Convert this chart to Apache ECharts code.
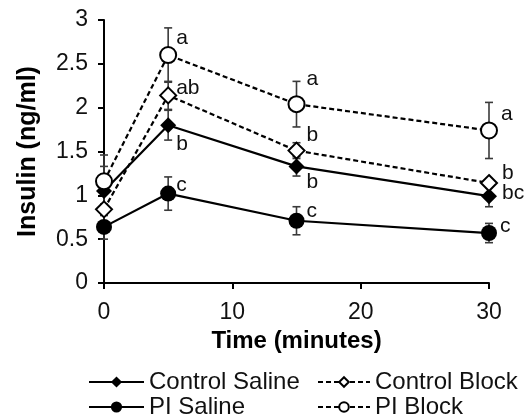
<!DOCTYPE html>
<html>
<head>
<meta charset="utf-8">
<script src="https://cdn.jsdelivr.net/npm/echarts@6/dist/echarts.min.js"></script>
<style>
  html, body { margin: 0; padding: 0; background: #fff; }
  #chart { width: 529px; height: 420px; }
</style>
</head>
<body>
<div id="chart"></div>
<script>
(function () {
  'use strict';

  // sampling times (minutes)
  var times = [0, 5, 15, 30];
  var yTicks = [0, 0.5, 1, 1.5, 2, 2.5, 3];

  // mean insulin (ng/ml) and SEM
  var controlSaline = [1.05, 1.80, 1.33, 0.99];
  var controlSalineErr = [0.28, 0.17, 0.11, 0.12];
  var piSaline = [0.64, 1.02, 0.71, 0.57];
  var piSalineErr = [0.14, 0.19, 0.16, 0.11];
  var controlBlock = [0.84, 2.14, 1.51, 1.14];
  var controlBlockErr = [0.06, 0.16, 0.09, 0.05];
  var piBlock = [1.16, 2.60, 2.04, 1.74];
  var piBlockErr = [0.30, 0.31, 0.26, 0.32];

  // significance letters (none at baseline)
  var controlSalineLetters = ['', 'b', 'b', 'bc'];
  var piSalineLetters = ['', 'c', 'c', 'c'];
  var controlBlockLetters = ['', 'ab', 'b', 'b'];
  var piBlockLetters = ['', 'a', 'a', 'a'];

  // where each letter sits relative to its point (px)
  var controlSalineLetterPos = [[0, 0], [8, 19], [10, 16], [13, -3]];
  var piSalineLetterPos = [[0, 0], [8, -8], [10, -10], [11, -7]];
  var controlBlockLetterPos = [[0, 0], [8, -7], [10, -15], [13, -10]];
  var piBlockLetterPos = [[0, 0], [8, -17], [10, -25], [12, -16]];

  var FONT = '"Liberation Sans", Arial, sans-serif';
  var ERR_COLOR = '#3a3a3a';

  function errorSeries(name, vals, errs) {
    return {
      type: 'custom',
      name: name + ' err',
      z: 1,
      data: times.map(function (t, i) { return [t, vals[i], errs[i]]; }),
      renderItem: function (params, api) {
        var x = api.value(0), y = api.value(1), e = api.value(2);
        var hi = api.coord([x, y + e]);
        var lo = api.coord([x, y - e]);
        var cap = 4;
        var st = { stroke: ERR_COLOR, lineWidth: 1.6 };
        return {
          type: 'group',
          children: [
            { type: 'line', shape: { x1: hi[0], y1: hi[1], x2: lo[0], y2: lo[1] }, style: st },
            { type: 'line', shape: { x1: hi[0] - cap, y1: hi[1], x2: hi[0] + cap, y2: hi[1] }, style: st },
            { type: 'line', shape: { x1: lo[0] - cap, y1: lo[1], x2: lo[0] + cap, y2: lo[1] }, style: st }
          ]
        };
      }
    };
  }

  function letterSeries(name, vals, letters, pos) {
    return {
      type: 'custom',
      name: name + ' letters',
      z: 5,
      data: times.map(function (t, i) { return [t, vals[i], i]; }),
      renderItem: function (params, api) {
        var i = api.value(2);
        var p = api.coord([api.value(0), api.value(1)]);
        var txt = letters[i];
        if (!txt) return null;
        return {
          type: 'text',
          x: p[0] + pos[i][0],
          y: p[1] + pos[i][1],
          style: {
            text: txt,
            fill: '#111',
            font: '21px ' + FONT,
            align: 'left',
            verticalAlign: 'middle'
          }
        };
      }
    };
  }

  function lineSeries(name, vals, symbol, filled, dashed) {
    return {
      type: 'line',
      name: name,
      z: 3,
      data: times.map(function (t, i) { return [t, vals[i]]; }),
      symbol: symbol,
      symbolSize: 16,
      showAllSymbol: true,
      lineStyle: { color: '#000', width: 2.2, type: dashed ? [5, 3] : 'solid' },
      itemStyle: {
        color: filled ? '#000' : '#fff',
        borderColor: '#000',
        borderWidth: filled ? 0 : 2
      },
      emphasis: { disabled: true }
    };
  }

  var chart = echarts.init(document.getElementById('chart'));

  var legendText = { fontFamily: FONT, fontSize: 24, color: '#111', lineHeight: 24 };

  chart.setOption({
    animation: false,
    backgroundColor: '#fff',
    grid: { left: 104, right: 40, top: 20, bottom: 137, containLabel: false },
    xAxis: {
      type: 'value',
      min: 0,
      max: 30,
      interval: 10,
      name: 'Time (minutes)',
      nameLocation: 'middle',
      nameGap: 46,
      nameTextStyle: { fontFamily: FONT, fontSize: 24, fontWeight: 'bold', color: '#000', verticalAlign: 'top' },
      axisLine: { onZero: false, lineStyle: { color: '#000', width: 2 } },
      axisTick: { show: true, length: 6, lineStyle: { color: '#000', width: 2 } },
      axisLabel: { margin: 18, fontFamily: FONT, fontSize: 23, color: '#111' },
      splitLine: { show: false }
    },
    yAxis: {
      type: 'value',
      min: yTicks[0],
      max: yTicks[yTicks.length - 1],
      interval: yTicks[1] - yTicks[0],
      name: 'Insulin (ng/ml)',
      nameLocation: 'middle',
      nameGap: 63,
      nameTextStyle: { fontFamily: FONT, fontSize: 25, fontWeight: 'bold', color: '#000' },
      axisLine: { show: true, lineStyle: { color: '#000', width: 2 } },
      axisTick: { show: true, length: 6, lineStyle: { color: '#000', width: 2 } },
      axisLabel: { margin: 16, fontFamily: FONT, fontSize: 23, color: '#111' },
      splitLine: { show: false }
    },
    legend: [
      {
        data: ['Control Saline', 'PI Saline'],
        orient: 'vertical',
        left: 88,
        top: 370,
        padding: 0,
        itemWidth: 55,
        itemHeight: 14,
        itemGap: 1,
        textStyle: legendText,
        selectedMode: false
      },
      {
        data: ['Control Block', 'PI Block'],
        orient: 'vertical',
        left: 317,
        top: 370,
        padding: 0,
        itemWidth: 52,
        itemHeight: 12,
        itemGap: 1,
        textStyle: legendText,
        selectedMode: false
      }
    ],
    series: [
      errorSeries('Control Saline', controlSaline, controlSalineErr),
      errorSeries('PI Saline', piSaline, piSalineErr),
      errorSeries('Control Block', controlBlock, controlBlockErr),
      errorSeries('PI Block', piBlock, piBlockErr),
      lineSeries('Control Saline', controlSaline, 'diamond', true, false),
      lineSeries('PI Saline', piSaline, 'circle', true, false),
      lineSeries('Control Block', controlBlock, 'diamond', false, true),
      lineSeries('PI Block', piBlock, 'circle', false, true),
      letterSeries('Control Saline', controlSaline, controlSalineLetters, controlSalineLetterPos),
      letterSeries('PI Saline', piSaline, piSalineLetters, piSalineLetterPos),
      letterSeries('Control Block', controlBlock, controlBlockLetters, controlBlockLetterPos),
      letterSeries('PI Block', piBlock, piBlockLetters, piBlockLetterPos)
    ]
  });
})();
</script>
</body>
</html>
